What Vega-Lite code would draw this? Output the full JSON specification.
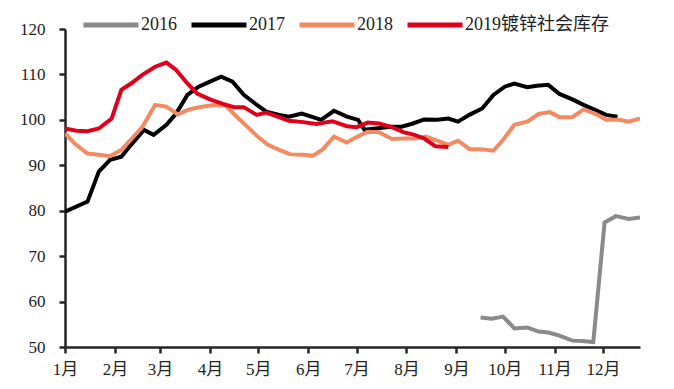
{
  "$schema": "https://vega.github.io/schema/vega-lite/v6.json",
  "width": 575,
  "height": 318,
  "autosize": {"type": "none"},
  "padding": {"left": 65, "top": 29, "right": 34, "bottom": 42},
  "background": "white",
  "config": {"view": {"stroke": null}, "font": "'Liberation Serif', 'Noto Sans CJK SC'"},
  "data": {"values": [
    {"series": "2016", "date": "2019-09-16", "value": 56.5},
    {"series": "2016", "date": "2019-09-23", "value": 56.2},
    {"series": "2016", "date": "2019-09-30", "value": 56.7},
    {"series": "2016", "date": "2019-10-07", "value": 54.1},
    {"series": "2016", "date": "2019-10-15", "value": 54.3},
    {"series": "2016", "date": "2019-10-22", "value": 53.4},
    {"series": "2016", "date": "2019-10-28", "value": 53.2},
    {"series": "2016", "date": "2019-11-04", "value": 52.5},
    {"series": "2016", "date": "2019-11-12", "value": 51.4},
    {"series": "2016", "date": "2019-11-18", "value": 51.3},
    {"series": "2016", "date": "2019-11-25", "value": 51.1},
    {"series": "2016", "date": "2019-12-02", "value": 77.4},
    {"series": "2016", "date": "2019-12-09", "value": 78.8},
    {"series": "2016", "date": "2019-12-17", "value": 78.2},
    {"series": "2016", "date": "2019-12-24", "value": 78.5},

    {"series": "2017", "date": "2019-01-01", "value": 79.8},
    {"series": "2017", "date": "2019-01-15", "value": 82.0},
    {"series": "2017", "date": "2019-01-22", "value": 88.6},
    {"series": "2017", "date": "2019-01-29", "value": 91.2},
    {"series": "2017", "date": "2019-02-05", "value": 91.9},
    {"series": "2017", "date": "2019-02-11", "value": 94.5},
    {"series": "2017", "date": "2019-02-19", "value": 97.8},
    {"series": "2017", "date": "2019-02-25", "value": 96.7},
    {"series": "2017", "date": "2019-03-05", "value": 98.9},
    {"series": "2017", "date": "2019-03-11", "value": 101.4},
    {"series": "2017", "date": "2019-03-18", "value": 105.5},
    {"series": "2017", "date": "2019-03-25", "value": 107.3},
    {"series": "2017", "date": "2019-04-01", "value": 108.4},
    {"series": "2017", "date": "2019-04-08", "value": 109.5},
    {"series": "2017", "date": "2019-04-15", "value": 108.4},
    {"series": "2017", "date": "2019-04-22", "value": 105.5},
    {"series": "2017", "date": "2019-04-29", "value": 103.6},
    {"series": "2017", "date": "2019-05-06", "value": 101.8},
    {"series": "2017", "date": "2019-05-14", "value": 101.1},
    {"series": "2017", "date": "2019-05-20", "value": 100.7},
    {"series": "2017", "date": "2019-05-28", "value": 101.4},
    {"series": "2017", "date": "2019-06-03", "value": 100.7},
    {"series": "2017", "date": "2019-06-09", "value": 100.0},
    {"series": "2017", "date": "2019-06-17", "value": 102.0},
    {"series": "2017", "date": "2019-06-25", "value": 100.7},
    {"series": "2017", "date": "2019-07-02", "value": 100.0},
    {"series": "2017", "date": "2019-07-06", "value": 97.8},
    {"series": "2017", "date": "2019-07-13", "value": 98.1},
    {"series": "2017", "date": "2019-07-22", "value": 98.5},
    {"series": "2017", "date": "2019-07-29", "value": 98.5},
    {"series": "2017", "date": "2019-08-05", "value": 99.2},
    {"series": "2017", "date": "2019-08-12", "value": 100.1},
    {"series": "2017", "date": "2019-08-20", "value": 100.0},
    {"series": "2017", "date": "2019-08-27", "value": 100.3},
    {"series": "2017", "date": "2019-09-02", "value": 99.6},
    {"series": "2017", "date": "2019-09-09", "value": 101.1},
    {"series": "2017", "date": "2019-09-17", "value": 102.5},
    {"series": "2017", "date": "2019-09-24", "value": 105.5},
    {"series": "2017", "date": "2019-10-01", "value": 107.3},
    {"series": "2017", "date": "2019-10-07", "value": 108.0},
    {"series": "2017", "date": "2019-10-15", "value": 107.2},
    {"series": "2017", "date": "2019-10-21", "value": 107.5},
    {"series": "2017", "date": "2019-10-28", "value": 107.7},
    {"series": "2017", "date": "2019-11-04", "value": 105.7},
    {"series": "2017", "date": "2019-11-12", "value": 104.5},
    {"series": "2017", "date": "2019-11-19", "value": 103.3},
    {"series": "2017", "date": "2019-11-26", "value": 102.2},
    {"series": "2017", "date": "2019-12-03", "value": 101.1},
    {"series": "2017", "date": "2019-12-10", "value": 100.7},

    {"series": "2018", "date": "2019-01-01", "value": 97.0},
    {"series": "2018", "date": "2019-01-07", "value": 94.8},
    {"series": "2018", "date": "2019-01-15", "value": 92.6},
    {"series": "2018", "date": "2019-01-22", "value": 92.3},
    {"series": "2018", "date": "2019-01-29", "value": 92.0},
    {"series": "2018", "date": "2019-02-05", "value": 93.4},
    {"series": "2018", "date": "2019-02-11", "value": 95.7},
    {"series": "2018", "date": "2019-02-18", "value": 98.4},
    {"series": "2018", "date": "2019-02-26", "value": 103.3},
    {"series": "2018", "date": "2019-03-05", "value": 102.9},
    {"series": "2018", "date": "2019-03-12", "value": 101.2},
    {"series": "2018", "date": "2019-03-19", "value": 102.3},
    {"series": "2018", "date": "2019-03-27", "value": 102.9},
    {"series": "2018", "date": "2019-04-04", "value": 103.3},
    {"series": "2018", "date": "2019-04-11", "value": 103.1},
    {"series": "2018", "date": "2019-04-17", "value": 100.9},
    {"series": "2018", "date": "2019-04-23", "value": 98.9},
    {"series": "2018", "date": "2019-04-30", "value": 96.5},
    {"series": "2018", "date": "2019-05-07", "value": 94.5},
    {"series": "2018", "date": "2019-05-14", "value": 93.4},
    {"series": "2018", "date": "2019-05-21", "value": 92.4},
    {"series": "2018", "date": "2019-05-29", "value": 92.3},
    {"series": "2018", "date": "2019-06-04", "value": 92.1},
    {"series": "2018", "date": "2019-06-10", "value": 93.5},
    {"series": "2018", "date": "2019-06-17", "value": 96.3},
    {"series": "2018", "date": "2019-06-25", "value": 95.0},
    {"series": "2018", "date": "2019-07-01", "value": 96.2},
    {"series": "2018", "date": "2019-07-08", "value": 97.4},
    {"series": "2018", "date": "2019-07-15", "value": 97.3},
    {"series": "2018", "date": "2019-07-23", "value": 95.8},
    {"series": "2018", "date": "2019-07-30", "value": 95.9},
    {"series": "2018", "date": "2019-08-06", "value": 95.9},
    {"series": "2018", "date": "2019-08-13", "value": 96.3},
    {"series": "2018", "date": "2019-08-21", "value": 95.3},
    {"series": "2018", "date": "2019-08-27", "value": 94.5},
    {"series": "2018", "date": "2019-09-02", "value": 95.4},
    {"series": "2018", "date": "2019-09-09", "value": 93.6},
    {"series": "2018", "date": "2019-09-17", "value": 93.5},
    {"series": "2018", "date": "2019-09-24", "value": 93.2},
    {"series": "2018", "date": "2019-09-30", "value": 95.6},
    {"series": "2018", "date": "2019-10-07", "value": 98.9},
    {"series": "2018", "date": "2019-10-15", "value": 99.6},
    {"series": "2018", "date": "2019-10-22", "value": 101.3},
    {"series": "2018", "date": "2019-10-29", "value": 101.7},
    {"series": "2018", "date": "2019-11-04", "value": 100.6},
    {"series": "2018", "date": "2019-11-12", "value": 100.6},
    {"series": "2018", "date": "2019-11-19", "value": 102.3},
    {"series": "2018", "date": "2019-11-26", "value": 101.4},
    {"series": "2018", "date": "2019-12-03", "value": 100.0},
    {"series": "2018", "date": "2019-12-11", "value": 100.0},
    {"series": "2018", "date": "2019-12-17", "value": 99.6},
    {"series": "2018", "date": "2019-12-24", "value": 100.3},

    {"series": "2019镀锌社会库存", "date": "2019-01-01", "value": 98.1},
    {"series": "2019镀锌社会库存", "date": "2019-01-08", "value": 97.6},
    {"series": "2019镀锌社会库存", "date": "2019-01-15", "value": 97.5},
    {"series": "2019镀锌社会库存", "date": "2019-01-22", "value": 98.1},
    {"series": "2019镀锌社会库存", "date": "2019-01-30", "value": 100.3},
    {"series": "2019镀锌社会库存", "date": "2019-02-05", "value": 106.6},
    {"series": "2019镀锌社会库存", "date": "2019-02-11", "value": 108.0},
    {"series": "2019镀锌社会库存", "date": "2019-02-18", "value": 109.9},
    {"series": "2019镀锌社会库存", "date": "2019-02-26", "value": 111.7},
    {"series": "2019镀锌社会库存", "date": "2019-03-05", "value": 112.6},
    {"series": "2019镀锌社会库存", "date": "2019-03-11", "value": 111.0},
    {"series": "2019镀锌社会库存", "date": "2019-03-18", "value": 108.0},
    {"series": "2019镀锌社会库存", "date": "2019-03-24", "value": 105.8},
    {"series": "2019镀锌社会库存", "date": "2019-04-01", "value": 104.5},
    {"series": "2019镀锌社会库存", "date": "2019-04-09", "value": 103.5},
    {"series": "2019镀锌社会库存", "date": "2019-04-16", "value": 102.8},
    {"series": "2019镀锌社会库存", "date": "2019-04-22", "value": 102.8},
    {"series": "2019镀锌社会库存", "date": "2019-04-30", "value": 101.1},
    {"series": "2019镀锌社会库存", "date": "2019-05-06", "value": 101.6},
    {"series": "2019镀锌社会库存", "date": "2019-05-13", "value": 100.7},
    {"series": "2019镀锌社会库存", "date": "2019-05-20", "value": 99.8},
    {"series": "2019镀锌社会库存", "date": "2019-05-29", "value": 99.5},
    {"series": "2019镀锌社会库存", "date": "2019-06-06", "value": 99.1},
    {"series": "2019镀锌社会库存", "date": "2019-06-16", "value": 99.7},
    {"series": "2019镀锌社会库存", "date": "2019-06-25", "value": 98.6},
    {"series": "2019镀锌社会库存", "date": "2019-07-01", "value": 98.4},
    {"series": "2019镀锌社会库存", "date": "2019-07-08", "value": 99.4},
    {"series": "2019镀锌社会库存", "date": "2019-07-15", "value": 99.2},
    {"series": "2019镀锌社会库存", "date": "2019-07-23", "value": 98.4},
    {"series": "2019镀锌社会库存", "date": "2019-07-30", "value": 97.3},
    {"series": "2019镀锌社会库存", "date": "2019-08-06", "value": 96.7},
    {"series": "2019镀锌社会库存", "date": "2019-08-12", "value": 95.9},
    {"series": "2019镀锌社会库存", "date": "2019-08-19", "value": 94.2},
    {"series": "2019镀锌社会库存", "date": "2019-08-27", "value": 94.0}
  ]},
  "mark": {"type": "line", "strokeWidth": 4, "clip": true},
  "encoding": {
    "x": {
      "field": "date", "type": "temporal",
      "scale": {"type": "utc", "domain": [
        {"year": 2019, "month": 1, "date": 1, "utc": true},
        {"year": 2019, "month": 12, "date": 24, "utc": true}
      ]},
      "axis": {
        "title": null, "grid": false,
        "values": [
          {"year": 2019, "month": 1, "date": 1, "utc": true},
          {"year": 2019, "month": 2, "date": 1, "utc": true},
          {"year": 2019, "month": 3, "date": 1, "utc": true},
          {"year": 2019, "month": 4, "date": 1, "utc": true},
          {"year": 2019, "month": 5, "date": 1, "utc": true},
          {"year": 2019, "month": 6, "date": 1, "utc": true},
          {"year": 2019, "month": 7, "date": 1, "utc": true},
          {"year": 2019, "month": 8, "date": 1, "utc": true},
          {"year": 2019, "month": 9, "date": 1, "utc": true},
          {"year": 2019, "month": 10, "date": 1, "utc": true},
          {"year": 2019, "month": 11, "date": 1, "utc": true},
          {"year": 2019, "month": 12, "date": 1, "utc": true}
        ],
        "labelExpr": "(utcmonth(datum.value) + 1) + '月'",
        "labelFontSize": 17, "labelColor": "#222222", "labelFlush": false, "labelOverlap": false,
        "domainColor": "#262626", "domainWidth": 2.5,
        "tickColor": "#262626", "tickWidth": 2.5, "tickSize": 6, "labelPadding": 8
      }
    },
    "y": {
      "field": "value", "type": "quantitative",
      "scale": {"domain": [50, 120], "nice": false, "zero": false},
      "axis": {
        "title": null, "grid": false,
        "values": [50, 60, 70, 80, 90, 100, 110, 120],
        "labelFontSize": 17, "labelColor": "#222222",
        "domainColor": "#262626", "domainWidth": 2.5,
        "tickColor": "#262626", "tickWidth": 2.5, "tickSize": 6, "labelPadding": 14
      }
    },
    "color": {
      "field": "series", "type": "nominal",
      "scale": {
        "domain": ["2016", "2017", "2018", "2019镀锌社会库存"],
        "range": ["#8a8a8a", "#000000", "#f28b62", "#e0001b"]
      },
      "legend": {
        "title": null, "orient": "none", "direction": "horizontal",
        "legendX": 16, "legendY": -34,
        "symbolType": "stroke", "symbolSize": 3025, "symbolStrokeWidth": 5,
        "labelFontSize": 18, "labelColor": "#222222", "labelOffset": 0,
        "columnPadding": 4
      }
    }
  }
}
